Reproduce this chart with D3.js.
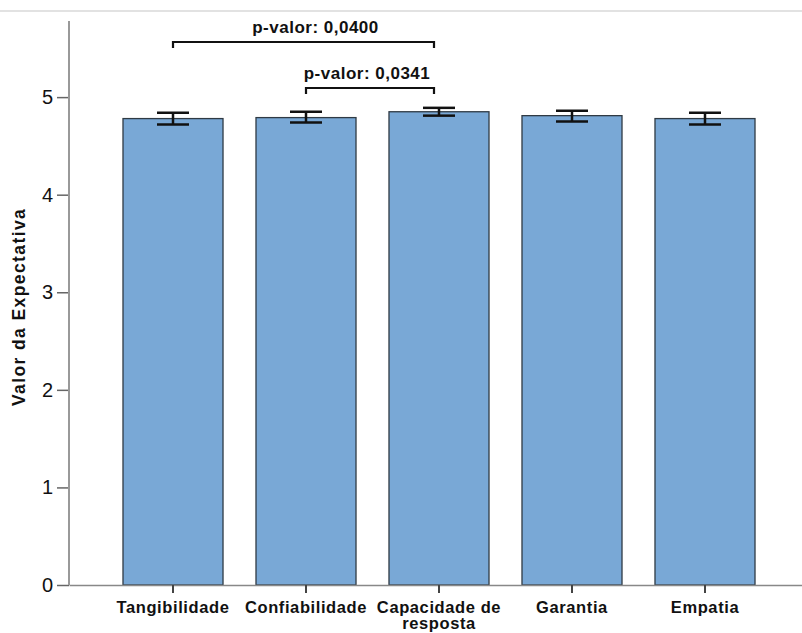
<!DOCTYPE html>
<html>
<head>
<meta charset="utf-8">
<script src="https://cdn.jsdelivr.net/npm/d3@7"></script>
<style>
    body { margin: 0; background: white; }
    text { font-family: 'Liberation Sans', Arial, sans-serif; fill: #111; }
</style>
</head>
<body>
<div id="graphContainer"></div>
<script>
const categories = ['Tangibilidade', 'Confiabilidade', 'Capacidade de|resposta', 'Garantia', 'Empatia'];
const means = [4.78, 4.79, 4.85, 4.81, 4.78];
const lowers = [4.72, 4.74, 4.81, 4.75, 4.72];
const uppers = [4.84, 4.85, 4.89, 4.86, 4.84];
const yTicks = [0, 1, 2, 3, 4, 5];
const comparisons = [
    { from: 0, to: 2, label: 'p-valor: 0,0400', level: 1 },
    { from: 1, to: 2, label: 'p-valor: 0,0341', level: 0 }
];

drawGraph();

function drawGraph() {
    const width = 802;
    const height = 633;

    const svg = d3.select('#graphContainer')
        .append('svg')
        .attr('width', width)
        .attr('height', height);

    // light frame line at the top
    svg.append('line')
        .attr('x1', 0).attr('x2', width)
        .attr('y1', 11).attr('y2', 11)
        .attr('stroke', '#e2e2e2')
        .attr('stroke-width', 2);

    const y = d3.scaleLinear().domain([0, 5.78]).range([585, 21]);
    const x = d3.scaleBand()
        .domain(categories)
        .range([69, 809])
        .paddingInner(0.248)
        .paddingOuter(0.406);

    const mid = function (i) {
        return x(categories[i]) + x.bandwidth() / 2;
    };

    // bars
    svg.append('g')
        .selectAll('rect')
        .data(categories)
        .enter()
        .append('rect')
        .attr('x', function (d) { return x(d); })
        .attr('y', function (d, i) { return y(means[i]); })
        .attr('width', x.bandwidth())
        .attr('height', function (d, i) { return y(0) - y(means[i]); })
        .attr('fill', '#79a8d6')
        .attr('stroke', '#2f3a44')
        .attr('stroke-width', 1.3);

    // error bars
    const err = svg.append('g')
        .attr('stroke', '#111')
        .attr('stroke-width', 2.5);
    categories.forEach(function (c, i) {
        const cx = mid(i);
        err.append('line')
            .attr('x1', cx).attr('x2', cx)
            .attr('y1', y(lowers[i])).attr('y2', y(uppers[i]));
        [lowers[i], uppers[i]].forEach(function (v) {
            err.append('line')
                .attr('x1', cx - 16).attr('x2', cx + 16)
                .attr('y1', y(v)).attr('y2', y(v));
        });
    });

    // y axis
    const yAxis = svg.append('g')
        .attr('transform', 'translate(69,0)')
        .call(d3.axisLeft(y).tickValues(yTicks).tickSize(12).tickPadding(4).tickFormat(d3.format('d')));
    yAxis.select('.domain').remove();
    yAxis.selectAll('.tick line').attr('stroke', '#666').attr('stroke-width', 1.5);
    yAxis.selectAll('.tick text')
        .style('font-size', '20px')
        .style('font-family', "'Liberation Sans', Arial, sans-serif")
        .attr('fill', '#111');
    svg.append('line')
        .attr('x1', 69).attr('x2', 69)
        .attr('y1', y(5.78)).attr('y2', y(0))
        .attr('stroke', '#999')
        .attr('stroke-width', 2);

    // x axis
    const xAxis = svg.append('g')
        .attr('transform', 'translate(0,' + y(0) + ')')
        .call(d3.axisBottom(x).tickSize(8).tickSizeOuter(0).tickFormat(''));
    xAxis.select('.domain').attr('stroke', '#888').attr('stroke-width', 1.5);
    xAxis.selectAll('.tick line').attr('stroke', '#444').attr('stroke-width', 2);

    svg.append('g')
        .selectAll('g')
        .data(categories)
        .enter()
        .append('g')
        .each(function (d) {
            const g = d3.select(this);
            d.split('|').forEach(function (part, k) {
                g.append('text')
                    .attr('x', x(d) + x.bandwidth() / 2)
                    .attr('y', 613 + k * 16)
                    .attr('text-anchor', 'middle')
                    .style('font-size', '16.5px')
                    .style('font-weight', 'bold')
                    .style('letter-spacing', '0.6px')
                    .text(part);
            });
        });

    // y title
    svg.append('text')
        .attr('transform', 'translate(25,' + (y(0) + y(5.78)) / 2 * 1.013 + ') rotate(-90)')
        .attr('text-anchor', 'middle')
        .style('font-size', '17.5px')
        .style('font-weight', 'bold')
        .style('letter-spacing', '1.4px')
        .text('Valor da Expectativa');

    // significance brackets
    const br = svg.append('g');
    comparisons.forEach(function (c) {
        const x1 = mid(c.from);
        const x2 = mid(c.to) - 5;
        const by = 88 - c.level * 46;
        br.append('path')
            .attr('d', 'M' + x1 + ',' + (by + 6) + 'V' + by + 'H' + x2 + 'V' + (by + 6))
            .attr('fill', 'none')
            .attr('stroke', '#111')
            .attr('stroke-width', 2.2);
        br.append('text')
            .attr('x', (x1 + x2) / 2 + (c.level ? 12 : -3))
            .attr('y', by - 9)
            .attr('text-anchor', 'middle')
            .style('font-size', '17px')
            .style('font-weight', 'bold')
            .style('letter-spacing', '0.5px')
            .text(c.label);
    });
}
</script>
</body>
</html>
